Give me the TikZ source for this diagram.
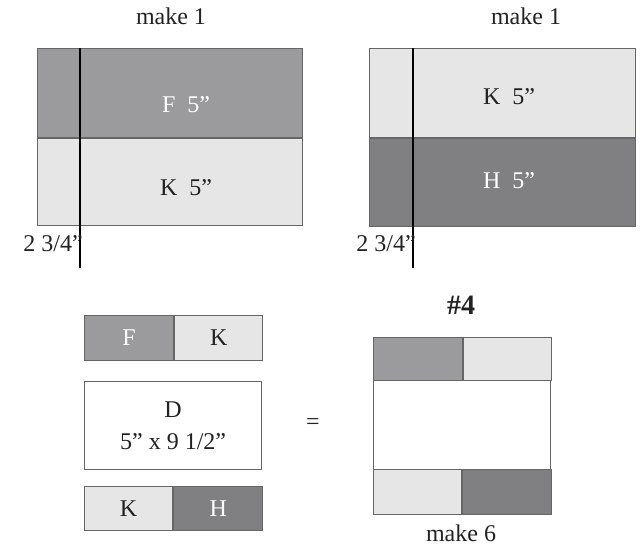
\documentclass[tikz,border=0pt]{standalone}
\usepackage{fontspec}
\setmainfont{Liberation Serif}
\usetikzlibrary{positioning}
\definecolor{fgray}{HTML}{9B9B9D}
\definecolor{kgray}{HTML}{E6E6E6}
\definecolor{hgray}{HTML}{808082}
\definecolor{edgegray}{HTML}{666666}
\definecolor{inkgray}{HTML}{222222}
\tikzset{
  patch/.style={draw=edgegray, line width=1.2pt, inner sep=0pt, anchor=north west},
  txt/.style={text=inkgray, inner sep=0pt, font=\fontsize{24}{32}\selectfont},
  wtxt/.style={txt, text=white},
  cutline/.style={line width=2pt, black}
}

\begin{document}
\begin{tikzpicture}[x=1pt, y=-1pt]
\useasboundingbox (0,0) rectangle (642,545);
% top left: F over K
\node[patch, fill=fgray, minimum width=265pt, minimum height=89pt] (F1) at (37,48) {};
\node[patch, fill=kgray, minimum width=265pt, minimum height=87pt, anchor=north] (K1) [below=0pt of F1] {};
\coordinate (cut1a) at (80,48);
\coordinate (cut1b) at (80,268);
\draw[cutline] (cut1a) -- (cut1b);
\node[txt] (make1a) at (171,16) {make 1};
\node[wtxt] (F1t) at (186,105) {F\enspace 5”};
\node[txt] (K1t) at (186,188) {K\enspace 5”};
\node[txt, anchor=east] (cut1t) at (83,244) {2 3/4”};
% top right: K over H
\node[patch, fill=kgray, minimum width=266pt, minimum height=89pt] (K2) at (369,48) {};
\node[patch, fill=hgray, minimum width=266pt, minimum height=88pt, anchor=north] (H2) [below=0pt of K2] {};
\coordinate (cut2a) at (413,48);
\coordinate (cut2b) at (413,268);
\draw[cutline] (cut2a) -- (cut2b);
\node[txt] (make1b) at (526,16) {make 1};
\node[txt] (K2t) at (509,97) {K\enspace 5”};
\node[wtxt] (H2t) at (509,181) {H\enspace 5”};
\node[txt, anchor=east] (cut2t) at (416,244) {2 3/4”};
% bottom left: the pieces
\node[patch, fill=fgray, minimum width=89pt, minimum height=45pt, wtxt] (F3) at (84,315) {F};
\node[patch, fill=kgray, minimum width=88pt, minimum height=45pt, txt, anchor=west] (K3) [right=0pt of F3] {K};
\node[patch, fill=white, minimum width=177pt, minimum height=88pt, txt, align=center] (D3) at (84,381) {D\\5” x 9 1/2”};
\node[patch, fill=kgray, minimum width=88pt, minimum height=44pt, txt] (K4) at (84,486) {K};
\node[patch, fill=hgray, minimum width=89pt, minimum height=44pt, wtxt, anchor=west] (H4) [right=0pt of K4] {H};
\node[txt] (eq) at (313,424) {=};
% bottom right: block #4
\node[txt, font=\fontsize{28}{30}\selectfont\bfseries] (num) at (461,305) {\#4};
\node[patch, fill=fgray, minimum width=89pt, minimum height=43pt] (F5) at (373,337) {};
\node[patch, fill=kgray, minimum width=88pt, minimum height=43pt, anchor=west] (K5) [right=0pt of F5] {};
\node[patch, fill=white, minimum width=177pt, minimum height=89pt] (D5) at (373,380) {};
\node[patch, fill=kgray, minimum width=88pt, minimum height=45pt] (K6) at (373,469) {};
\node[patch, fill=hgray, minimum width=89pt, minimum height=45pt, anchor=west] (H6) [right=0pt of K6] {};
\node[txt] (make6) at (461,533) {make 6};
\end{tikzpicture}
\end{document}
